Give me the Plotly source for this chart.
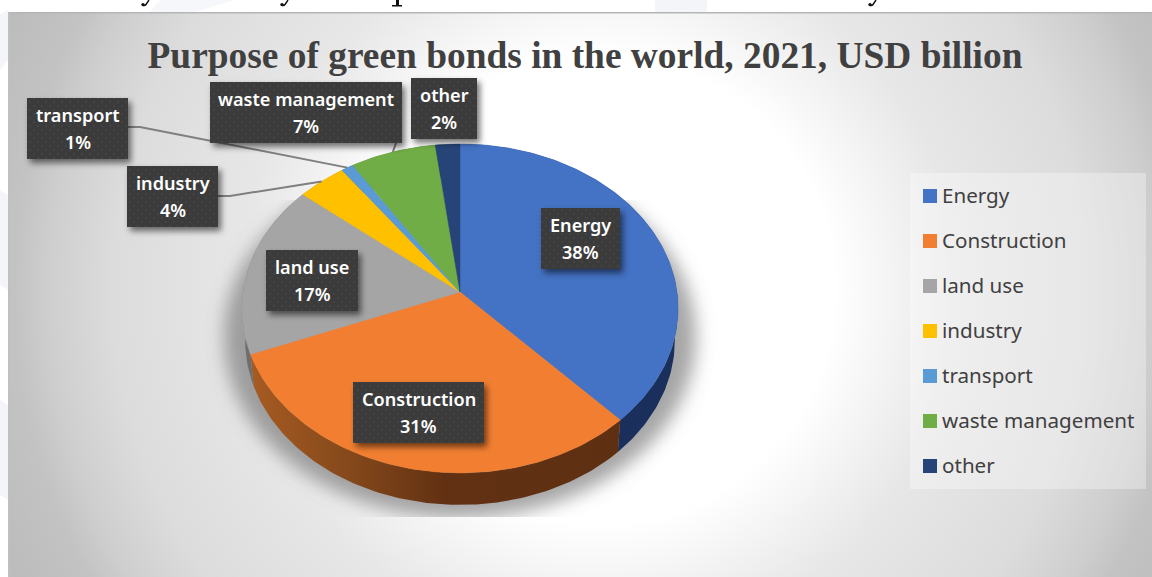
import base64
import math
import plotly.graph_objects as go

# Share of green bond proceeds by purpose, percent of the 2021 total
categories = ["Energy", "Construction", "land use", "industry", "transport", "waste management", "other"]
shares = [38, 31, 17, 4, 1, 7, 2]
top_colors = ["#4472C4", "#F27F31", "#A5A5A5", "#FFC000", "#5B9BD5", "#70AD47", "#264478"]
wall_colors = ["#1B2F5C", "#663413", "#6E6E6E", "#AA8000", "#3D6890", "#4B742F", "#192E50"]

title_text = "Purpose of green bonds in the world, 2021, USD billion"

W, H = 1152, 577

# Tilted-disc projection of the pie, in canvas pixels
HUB_X, HUB_Y = 460, 292
SCALE_X, SCALE_Y = 217, 162.8
TILT = 0.1
DEPTH = 32
BASE_SHRINK = 0.985

# Key placement
KEY_X, KEY_TOP, KEY_STEP = 930, 196, 45
KEY_TEXT_X = 942

# Callout boxes: x0, y0, x1, y1 on the canvas
label_boxes = {
    "Energy": (541, 208, 620, 269),
    "Construction": (353, 382, 484, 443),
    "land use": (266, 250, 358, 311),
    "industry": (127, 166, 218, 227),
    "transport": (27, 98, 128, 159),
    "waste management": (210, 82, 402, 143),
    "other": (411, 78, 477, 139),
}
# Where each leader line leaves its box
leader_starts = {
    "industry": [(218, 196), (230, 196)],
    "transport": [(128, 127), (140, 127)],
    "waste management": [(396, 143)],
}


def project(frac):
    """Canvas position of the rim point at a fraction of the way round, clockwise from 12 o'clock."""
    a = 2 * math.pi * frac
    u, v = math.sin(a), math.cos(a)
    w = 1 + TILT * v
    return HUB_X + SCALE_X * u / w, HUB_Y - SCALE_Y * v / w


def base(px, py):
    return HUB_X + (px - HUB_X) * BASE_SHRINK, py + DEPTH


def arc(f0, f1):
    n = max(2, int((f1 - f0) * 360))
    return [project(f0 + (f1 - f0) * i / n) for i in range(n + 1)]


def svg_uri(body):
    svg = f'<svg xmlns="http://www.w3.org/2000/svg" width="{W}" height="{H}" viewBox="0 0 {W} {H}">{body}</svg>'
    return "data:image/svg+xml;base64," + base64.b64encode(svg.encode()).decode()


# Ink of the page line that sits above the panel and runs off the top edge
hook_ink = "".join(
    f'<path d="M{bx + 8},0 L{bx + 5},4.5 Q{bx + 4},6 {bx + 2},5.5" fill="none" stroke="#111" stroke-width="1.4"/>'
    f'<circle cx="{bx + 2}" cy="4.6" r="1.7" fill="#111"/>'
    for bx in (141, 280, 868)
)
stem_ink = (
    '<rect x="396" y="0" width="3" height="5.5" fill="#111"/>'
    '<rect x="392" y="5" width="10" height="1.5" fill="#111"/>'
)

# Panel backdrop: radial grey sheen, legend plate, soft shadow under the disc
backdrop = f'''
<defs>
<radialGradient id="sheen" gradientUnits="userSpaceOnUse" cx="600" cy="290" r="650">
<stop offset="0" stop-color="#ffffff"/><stop offset="0.36" stop-color="#ffffff"/>
<stop offset="0.55" stop-color="#e7e7e7"/><stop offset="0.75" stop-color="#dcdcdc"/>
<stop offset="0.85" stop-color="#cecece"/><stop offset="0.9" stop-color="#c3c3c3"/>
<stop offset="1" stop-color="#bcbcbc"/>
</radialGradient>
<filter id="soft" x="-20%" y="-20%" width="140%" height="140%"><feGaussianBlur stdDeviation="9"/></filter>
<clipPath id="shadowclip"><rect x="150" y="200" width="640" height="317"/></clipPath>
</defs>
<rect width="{W}" height="{H}" fill="#ffffff"/>
<polygon points="0,14 8,10 8,60 0,70" fill="#f3f5f9"/>
<polygon points="0,190 8,195 8,290 0,285" fill="#f3f5f9"/>
<polygon points="0,400 8,405 8,500 0,495" fill="#f3f5f9"/>
<polygon points="160,0 235,0 195,12 150,12" fill="#f5f7fa"/>
<polygon points="655,0 707,0 707,12 655,12" fill="#f3f5f9"/>
{hook_ink}{stem_ink}
<rect x="8" y="12" width="{W - 8}" height="{H - 12}" fill="url(#sheen)"/>
<rect x="8" y="12" width="{W - 8}" height="1.5" fill="#b5b5b5"/>
<rect x="8" y="12" width="1.5" height="{H - 12}" fill="#c0c0c0"/>
<rect x="910" y="173" width="236" height="316" fill="#ffffff" fill-opacity="0.32"/>
<g clip-path="url(#shadowclip)"><ellipse cx="460" cy="337" rx="236" ry="181" fill="#6e6e6e" fill-opacity="0.62" filter="url(#soft)"/></g>
'''

# Callout plates with a fine dotted texture and a drop shadow
plates = "".join(
    f'<rect x="{x0}" y="{y0}" width="{x1 - x0}" height="{y1 - y0}" fill="#000" fill-opacity="0.55" filter="url(#drop)"/>'
    f'<rect x="{x0}" y="{y0}" width="{x1 - x0}" height="{y1 - y0}" fill="url(#dots)"/>'
    for x0, y0, x1, y1 in label_boxes.values()
)
overlay = f'''
<defs>
<pattern id="dots" width="8" height="8" patternUnits="userSpaceOnUse">
<rect width="8" height="8" fill="#3b3b3b"/><circle cx="2" cy="2" r="1" fill="#474747"/><circle cx="6" cy="6" r="1" fill="#474747"/>
</pattern>
<filter id="drop" x="-30%" y="-30%" width="160%" height="160%"><feOffset dx="3" dy="4"/><feGaussianBlur stdDeviation="3"/></filter>
</defs>
{plates}
'''

fig = go.Figure()

# Running boundaries of the slices
edges = [0.0]
for s in shares:
    edges.append(edges[-1] + s / sum(shares))

# Rim wall first, so the top face covers its hidden part
for i, name in enumerate(categories):
    rim = arc(edges[i], edges[i + 1])
    bottom = [base(px, py) for px, py in rim]
    pts = rim + bottom[::-1] + [rim[0]]
    kw = dict(fillcolor=wall_colors[i])
    if name == "Construction":
        kw = dict(fillgradient=dict(type="horizontal", start=250, stop=640, colorscale=[
            [0, "#A75B22"], [0.25, "#85491B"], [0.5, "#623113"], [1, "#5E2F12"]]))
    fig.add_trace(go.Scatter(x=[p[0] for p in pts], y=[p[1] for p in pts], mode="lines",
                             line=dict(width=0), fill="toself", hoverinfo="skip",
                             showlegend=False, **kw))

# Top face of each slice
for i, name in enumerate(categories):
    pts = [(HUB_X, HUB_Y)] + arc(edges[i], edges[i + 1]) + [(HUB_X, HUB_Y)]
    fig.add_trace(go.Scatter(x=[p[0] for p in pts], y=[p[1] for p in pts], mode="lines",
                             line=dict(width=0.5, color=top_colors[i]), fill="toself",
                             fillcolor=top_colors[i], name=name, showlegend=False,
                             hovertemplate=f"{name}: {shares[i]}%<extra></extra>"))

# Leader lines from the outer callouts to the middle of their slices
for name, start in leader_starts.items():
    i = categories.index(name)
    end = project((edges[i] + edges[i + 1]) / 2)
    pts = start + [end]
    fig.add_trace(go.Scatter(x=[p[0] for p in pts], y=[p[1] for p in pts], mode="lines",
                             line=dict(width=2, color="#7f7f7f"), hoverinfo="skip", showlegend=False))

# Colour key swatches
key_rows = [KEY_TOP + KEY_STEP * i for i in range(len(categories))]
fig.add_trace(go.Scatter(
    x=[KEY_X] * len(categories), y=key_rows, mode="markers",
    marker=dict(symbol="square", size=14, color=top_colors),
    hoverinfo="skip", showlegend=False,
))

annotations = []

# Colour key names
for name, row in zip(categories, key_rows):
    annotations.append(dict(x=KEY_TEXT_X, y=row - 1, text=name, xref="x", yref="y", showarrow=False,
                            xanchor="left", xshift=-2, yanchor="middle",
                            font=dict(family="Noto Sans", size=20.6, color="#404040")))

# Callout text, one annotation per line
LABEL_FONT = dict(family="Noto Sans", size=18.1, color="#ffffff", weight=600)
for name, share in zip(categories, shares):
    x0, y0, x1, y1 = label_boxes[name]
    cx, cy = (x0 + x1) / 2, (y0 + y1) / 2
    annotations.append(dict(x=cx, y=cy - 14, text=name, xref="x", yref="y", showarrow=False,
                            xanchor="center", yanchor="middle", font=LABEL_FONT))
    annotations.append(dict(x=cx, y=cy + 13, text=f"{share}%", xref="x", yref="y", showarrow=False,
                            xanchor="center", yanchor="middle", font=LABEL_FONT))

fig.update_layout(
    width=W, height=H, margin=dict(l=0, r=0, t=0, b=0),
    paper_bgcolor="rgba(0,0,0,0)", plot_bgcolor="rgba(0,0,0,0)",
    xaxis=dict(range=[0, W], visible=False, fixedrange=True),
    yaxis=dict(range=[H, 0], visible=False, fixedrange=True),
    title=dict(text=title_text, x=585 / W, xanchor="center", y=1 - 55 / H, yanchor="middle",
               font=dict(family="Liberation Serif", size=37.4, color="#404040", weight="bold")),
    showlegend=False,
    annotations=annotations,
    images=[
        dict(source=svg_uri(backdrop), xref="paper", yref="paper", x=0, y=1, sizex=1, sizey=1,
             xanchor="left", yanchor="top", sizing="stretch", layer="below"),
        dict(source=svg_uri(overlay), xref="paper", yref="paper", x=0, y=1, sizex=1, sizey=1,
             xanchor="left", yanchor="top", sizing="stretch", layer="above"),
    ],
)

fig.write_html("out.html", config={"displayModeBar": False})
